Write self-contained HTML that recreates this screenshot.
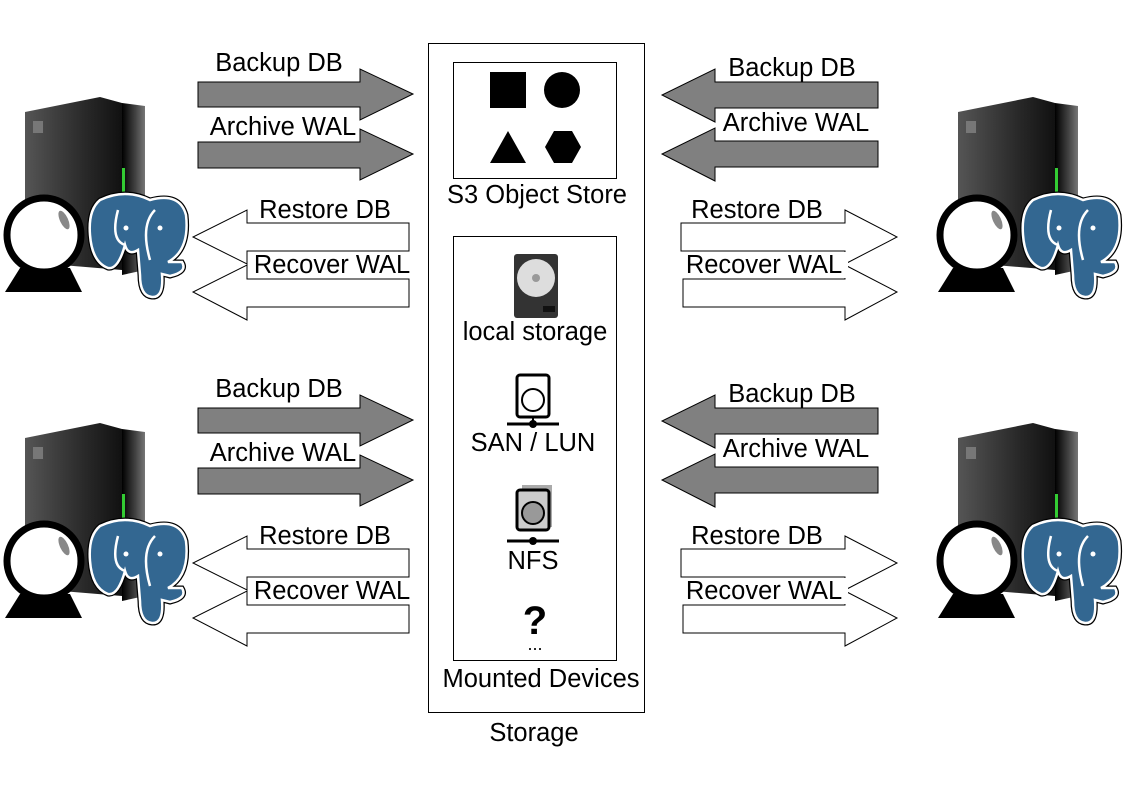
<!DOCTYPE html>
<html><head><meta charset="utf-8"><style>
html,body{margin:0;padding:0;background:#fff;}
svg{display:block;}
text{font-family:"Liberation Sans",sans-serif;font-size:25.5px;fill:#000;}
</style></head><body>
<svg width="1123" height="794" viewBox="0 0 1123 794" xmlns="http://www.w3.org/2000/svg">
<defs>
<linearGradient id="sv" x1="0" x2="1" y1="0" y2="0">
<stop offset="0" stop-color="#555"/><stop offset="0.6" stop-color="#2a2a2a"/><stop offset="1" stop-color="#111"/>
</linearGradient>
<linearGradient id="sv2" x1="0" x2="1"><stop offset="0" stop-color="#000"/><stop offset="0.6" stop-color="#444"/><stop offset="1" stop-color="#777"/></linearGradient>
<g id="host">
  <polygon points="25,112 100,97 122,103 122,270 25,262" fill="url(#sv)"/>
  <polygon points="122,103 145,106 145,270 122,275" fill="url(#sv2)"/>
  <rect x="122" y="168" width="3" height="26" fill="#3c3"/>
  <rect x="33" y="121" width="10" height="12" fill="#777"/>
  <polygon points="5,292 20,268 70,268 82,292" fill="#000"/>
  <circle cx="44" cy="235" r="37" fill="#fff" stroke="#000" stroke-width="7"/>
  <ellipse cx="64" cy="220" rx="4" ry="10" fill="#888" transform="rotate(-25 64 220)"/>
  <path d="M100,200 Q125,188 150,200 Q180,192 186,215 Q190,250 168,262 L182,262 Q188,272 170,276 L162,274 Q164,298 152,297 Q140,296 140,275 L138,250 Q128,256 125,245 Q118,270 108,268 Q92,262 90,235 Q88,210 100,200 Z" fill="#336791" stroke="#000" stroke-width="5"/>
  <path d="M100,200 Q125,188 150,200 Q180,192 186,215 Q190,250 168,262 L182,262 Q188,272 170,276 L162,274 Q164,298 152,297 Q140,296 140,275 L138,250 Q128,256 125,245 Q118,270 108,268 Q92,262 90,235 Q88,210 100,200 Z" fill="#336791" stroke="#fff" stroke-width="2.5"/>
  <path d="M118,210 Q110,240 125,245 M155,210 Q140,225 150,260" fill="none" stroke="#fff" stroke-width="2.5"/>
  <circle cx="126" cy="228" r="2.5" fill="#fff"/><circle cx="160" cy="228" r="2.5" fill="#fff"/>
</g>
<g id="leftarrows">
  <polygon points="198,82 360,82 360,69 413,94 360,120 360,107 198,107" fill="#808080" stroke="#000" stroke-width="1"/>
  <polygon points="198,142 360,142 360,129 413,154 360,180 360,168 198,168" fill="#808080" stroke="#000" stroke-width="1"/>
  <polygon points="409,223 247,223 247,210 193,237 247,264 247,251 409,251" fill="#fff" stroke="#000" stroke-width="1"/>
  <polygon points="409,279 247,279 247,265 193,292 247,320 247,307 409,307" fill="#fff" stroke="#000" stroke-width="1"/>
</g>
<g id="rightarrows">
  <polygon points="878,82 715,82 715,69 662,95 715,122 715,108 878,108" fill="#808080" stroke="#000" stroke-width="1"/>
  <polygon points="878,141 715,141 715,128 662,154 715,181 715,167 878,167" fill="#808080" stroke="#000" stroke-width="1"/>
  <polygon points="681,223 845,223 845,210 897,237 845,264 845,251 681,251" fill="#fff" stroke="#000" stroke-width="1"/>
  <polygon points="683,279 845,279 845,265 897,292 845,320 845,307 683,307" fill="#fff" stroke="#000" stroke-width="1"/>
</g>
</defs>

<use href="#host"/>
<use href="#host" transform="translate(933,0)"/>
<use href="#host" transform="translate(0,326)"/>
<use href="#host" transform="translate(933,326)"/>

<use href="#leftarrows"/>
<use href="#leftarrows" transform="translate(0,326)"/>
<use href="#rightarrows"/>
<use href="#rightarrows" transform="translate(0,326)"/>

<g>
<rect x="208" y="113" width="150" height="28" fill="#fff"/>
<rect x="250" y="196" width="150" height="26" fill="#fff"/>
<rect x="250" y="252" width="162" height="26" fill="#fff"/>
<rect x="718" y="110" width="156" height="28" fill="#fff"/>
<rect x="686" y="196" width="144" height="26" fill="#fff"/>
<rect x="682" y="252" width="166" height="26" fill="#fff"/>
<rect x="208" y="439" width="150" height="28" fill="#fff"/>
<rect x="250" y="522" width="150" height="26" fill="#fff"/>
<rect x="250" y="578" width="162" height="26" fill="#fff"/>
<rect x="718" y="436" width="156" height="28" fill="#fff"/>
<rect x="686" y="522" width="144" height="26" fill="#fff"/>
<rect x="682" y="578" width="166" height="26" fill="#fff"/>
</g>

<text x="279" y="71" text-anchor="middle">Backup DB</text>
<text x="283" y="135" text-anchor="middle">Archive WAL</text>
<text x="325" y="218" text-anchor="middle">Restore DB</text>
<text x="332" y="273" text-anchor="middle">Recover WAL</text>
<text x="792" y="76" text-anchor="middle">Backup DB</text>
<text x="796" y="131" text-anchor="middle">Archive WAL</text>
<text x="757" y="218" text-anchor="middle">Restore DB</text>
<text x="764" y="273" text-anchor="middle">Recover WAL</text>

<text x="279" y="397" text-anchor="middle">Backup DB</text>
<text x="283" y="461" text-anchor="middle">Archive WAL</text>
<text x="325" y="544" text-anchor="middle">Restore DB</text>
<text x="332" y="599" text-anchor="middle">Recover WAL</text>
<text x="792" y="402" text-anchor="middle">Backup DB</text>
<text x="796" y="457" text-anchor="middle">Archive WAL</text>
<text x="757" y="544" text-anchor="middle">Restore DB</text>
<text x="764" y="599" text-anchor="middle">Recover WAL</text>

<rect x="428.5" y="43.5" width="216" height="669" fill="none" stroke="#000" stroke-width="1"/>
<rect x="453.5" y="62.5" width="163" height="116" fill="#fff" stroke="#000" stroke-width="1"/>
<rect x="490" y="72" width="36" height="36" fill="#000"/>
<circle cx="562" cy="90" r="18" fill="#000"/>
<polygon points="508,131 526,163 490,163" fill="#000"/>
<polygon points="554,131 572,131 581,147 572,163 554,163 545,147" fill="#000"/>
<text x="537" y="203" text-anchor="middle">S3 Object Store</text>

<rect x="453.5" y="236.5" width="163" height="424" fill="none" stroke="#000" stroke-width="1"/>
<rect x="514" y="254" width="44" height="64" rx="3" fill="#333"/>
<circle cx="536" cy="278" r="19" fill="#ddd"/>
<circle cx="536" cy="278" r="4" fill="#999"/>
<rect x="543" y="306" width="12" height="6" fill="#111"/>
<text x="535" y="340" text-anchor="middle">local storage</text>

<rect x="517" y="375" width="32" height="42" rx="3" fill="#fff" stroke="#000" stroke-width="3"/>
<circle cx="533" cy="400" r="11" fill="#fff" stroke="#000" stroke-width="2"/>
<line x1="507" y1="424" x2="559" y2="424" stroke="#000" stroke-width="3"/>
<circle cx="533" cy="424" r="4" fill="#000"/><line x1="533" y1="417" x2="533" y2="424" stroke="#000" stroke-width="2"/>
<text x="533" y="451" text-anchor="middle">SAN / LUN</text>

<rect x="522" y="485" width="30" height="42" fill="#aaa"/>
<rect x="517" y="490" width="32" height="40" rx="3" fill="#ccc" stroke="#000" stroke-width="3"/>
<circle cx="533" cy="513" r="11" fill="#999" stroke="#000" stroke-width="2"/>
<line x1="507" y1="541" x2="559" y2="541" stroke="#000" stroke-width="3"/>
<circle cx="533" cy="541" r="4" fill="#000"/>
<text x="533" y="569" text-anchor="middle">NFS</text>
<text x="535" y="634" text-anchor="middle" style="font-size:40px;font-weight:bold">?</text>
<text x="535" y="650" text-anchor="middle" style="font-size:18px">...</text>
<text x="541" y="687" text-anchor="middle">Mounted Devices</text>
<text x="534" y="741" text-anchor="middle">Storage</text>
</svg>
</body></html>
